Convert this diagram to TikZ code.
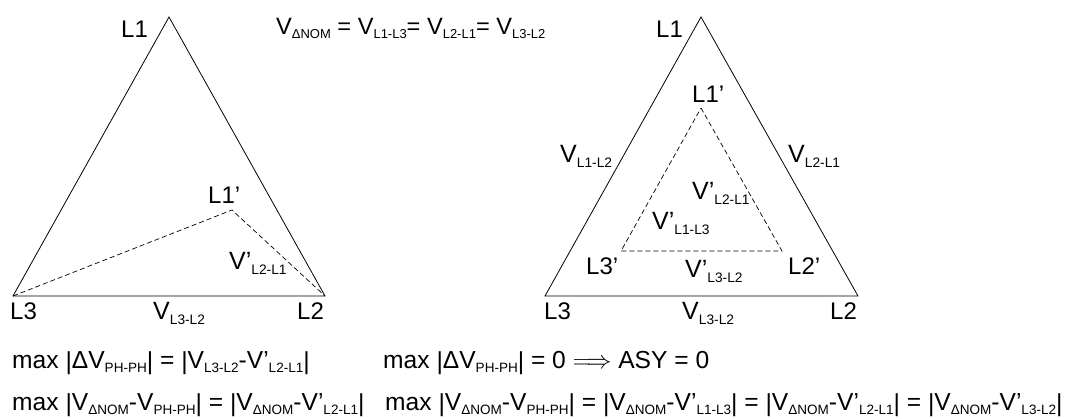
\documentclass[tikz,border=0pt]{standalone}
\usepackage{fontspec}
\setmainfont{Liberation Sans}
\newcommand{\sbs}[1]{\raisebox{-0.2em}{\scalebox{0.55}{#1}}}
\newcommand{\lbar}{\raisebox{-1pt}{|}}
\begin{document}
\begin{tikzpicture}[x=1pt,y=-1pt,
  tri/.style={draw=black,line width=0.8pt,line join=miter},
  dtri/.style={draw=black,line width=0.7pt,dash pattern=on 5pt off 3pt},
  lab/.style={inner sep=0pt,anchor=base west,font=\fontsize{24}{24}\selectfont},
  vlab/.style={inner sep=0pt,anchor=base west,font=\fontsize{25}{25}\selectfont},
  eq/.style={inner sep=0pt,anchor=base west,font=\fontsize{24.6}{24.6}\selectfont}]
\useasboundingbox (0,0) rectangle (1071,418);
% left triangle
\coordinate (A1) at (169,17);
\coordinate (A3) at (13,296);
\coordinate (A2) at (325,296);
\coordinate (A1p) at (232,210);
\draw[tri] (A1) -- (A2) -- (A3) -- cycle;
\draw[dtri] (A3) -- (A1p) -- (A2);
\node[lab] (a1) at (121,37) {L1};
\node[lab] (a1p) at (208,203) {L1’};
\node[vlab] (av) at (229,269) {V’\sbs{L2-L1}};
\node[lab] (a3) at (10,319) {L3};
\node[vlab] (avb) at (153,319) {V\sbs{L3-L2}};
\node[lab] (a2) at (297,319) {L2};
% top equation
\node[eq,font=\fontsize{23.6}{23.6}\selectfont] (topeq) at (276,34) {V\sbs{ΔNOM} = V\sbs{L1-L3}= V\sbs{L2-L1}= V\sbs{L3-L2}};
% right triangle
\coordinate (B1) at (701,17);
\coordinate (B3) at (545,296);
\coordinate (B2) at (858,296);
\coordinate (B1p) at (701,108);
\coordinate (B3p) at (621,251);
\coordinate (B2p) at (782,251);
\draw[tri] (B1) -- (B2) -- (B3) -- cycle;
\draw[dtri] (B1p) -- (B2p) -- (B3p) -- cycle;
\node[lab] (b1) at (656,37) {L1};
\node[lab] (b1p) at (692,102) {L1’};
\node[vlab] (bv12) at (560,162) {V\sbs{L1-L2}};
\node[vlab] (bv21) at (788,162) {V\sbs{L2-L1}};
\node[vlab] (bvp21) at (692,199) {V’\sbs{L2-L1}};
\node[vlab] (bvp13) at (652,229) {V’\sbs{L1-L3}};
\node[lab] (b3p) at (586,274) {L3’};
\node[lab] (b2p) at (788,274) {L2’};
\node[vlab] (bvp32) at (685,277) {V’\sbs{L3-L2}};
\node[lab] (b3) at (544,319) {L3};
\node[vlab] (bv32) at (682,319) {V\sbs{L3-L2}};
\node[lab] (b2) at (830,319) {L2};
% formulas
\node[eq] (f1) at (12,368) {max \lbar ΔV\sbs{PH-PH}\lbar{} = \lbar V\sbs{L3-L2}-V’\sbs{L2-L1}\lbar};
\node[eq] (f2) at (383,368) {max \lbar ΔV\sbs{PH-PH}\lbar{} = 0 $\Longrightarrow$ ASY = 0};
\node[eq] (f3) at (12,410) {max \lbar V\sbs{ΔNOM}-V\sbs{PH-PH}\lbar{} = \lbar V\sbs{ΔNOM}-V’\sbs{L2-L1}\lbar};
\node[eq] (f4) at (385,410) {max \lbar V\sbs{ΔNOM}-V\sbs{PH-PH}\lbar{} = \lbar V\sbs{ΔNOM}-V’\sbs{L1-L3}\lbar{} = \lbar V\sbs{ΔNOM}-V’\sbs{L2-L1}\lbar{} = \lbar V\sbs{ΔNOM}-V’\sbs{L3-L2}\lbar};
\end{tikzpicture}
\end{document}
